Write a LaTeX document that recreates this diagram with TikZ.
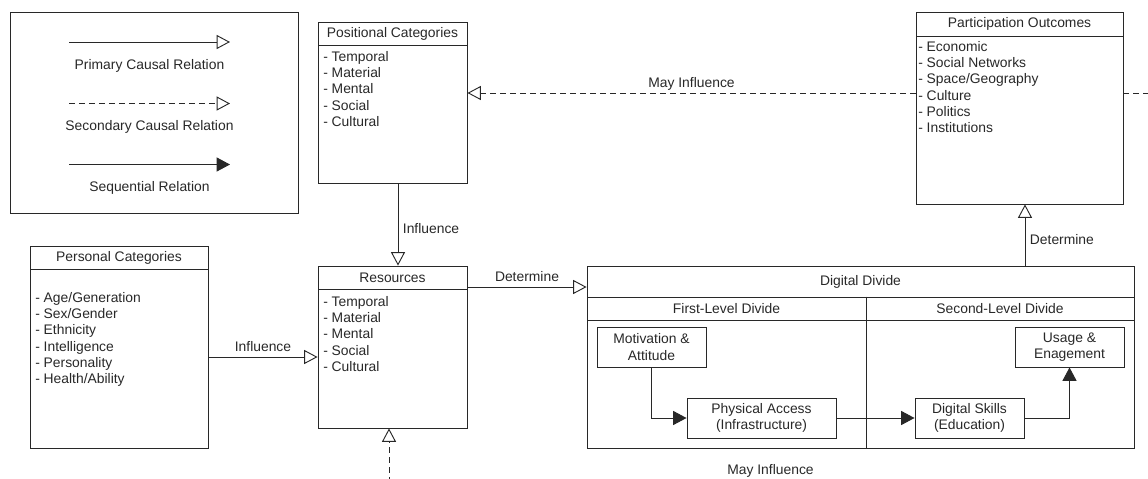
\documentclass[tikz,border=0pt]{standalone}
\usepackage{fontspec}
\setmainfont{Liberation Sans}
\usetikzlibrary{arrows.meta,positioning,fit,calc}
\definecolor{linegray}{RGB}{40,40,40}
\definecolor{textgray}{RGB}{40,40,40}

\begin{document}
\begin{tikzpicture}[x=0.75pt, y=-0.75pt,
    every node/.style={font=\fontsize{10.4}{12.2}\selectfont, text=textgray},
    frame/.style={draw=linegray, line width=0.7pt, inner sep=0pt, fit={#1}},
    items/.style={anchor=north west, align=left, inner sep=0pt},
    stage/.style={draw=linegray, line width=0.7pt, minimum width=81.75pt, minimum height=30pt, align=center, inner sep=1pt},
    primary/.style={draw=linegray, line width=0.7pt, -{Triangle[open, length=10pt, width=10.5pt]}},
    secondary/.style={primary, dash pattern=on 4.5pt off 3pt},
    sequential/.style={draw=linegray, line width=0.7pt, -{Triangle[length=10pt, width=10.5pt]}}]

\useasboundingbox (0,0) rectangle (1148,478);
\clip (0,0) rectangle (1148,478);

% legend
\node[frame={(10,12) (298,213)}] (legend) {};
\coordinate (prim-a) at (69,42);
\coordinate (prim-b) at (230,42);
\draw[primary] (prim-a) -- (prim-b);
\node (prim-lbl) at (149.5,65.5) {Primary Causal Relation};
\coordinate (sec-a) at (69,103.5);
\coordinate (sec-b) at (230,103.5);
\draw[secondary] (sec-a) -- (sec-b);
\node (sec-lbl) at (149.5,127) {Secondary Causal Relation};
\coordinate (seq-a) at (69,164.5);
\coordinate (seq-b) at (230,164.5);
\draw[sequential] (seq-a) -- (seq-b);
\node (seq-lbl) at (149.5,187.5) {Sequential Relation};

% category boxes
\node[frame={(318,22) (467,183)}] (positional) {};
\node[frame={(318,22) (467,45)}] (positional-head) {};
\node (positional-title) at (positional-head.center) {Positional Categories};
\node[items] (positional-list) at (323,51) {- Temporal\\- Material\\- Mental\\- Social\\- Cultural};

\node[frame={(30,246) (208,448)}] (personal) {};
\node[frame={(30,246) (208,269)}] (personal-head) {};
\node (personal-title) at (personal-head.center) {Personal Categories};
\node[items] (personal-list) at (35,292) {- Age/Generation\\- Sex/Gender\\- Ethnicity\\- Intelligence\\- Personality\\- Health/Ability};

\node[frame={(318,266) (467,428)}] (resources) {};
\node[frame={(318,266) (467,289)}] (resources-head) {};
\node (resources-title) at (resources-head.center) {Resources};
\node[items] (resources-list) at (323,296) {- Temporal\\- Material\\- Mental\\- Social\\- Cultural};

\node[frame={(916,12) (1123,204)}] (participation) {};
\node[frame={(916,12) (1123,36)}] (participation-head) {};
\node (participation-title) at (participation-head.center) {Participation Outcomes};
\node[items] (participation-list) at (918,41) {- Economic\\- Social Networks\\- Space/Geography\\- Culture\\- Politics\\- Institutions};

% digital divide
\node[frame={(587,266) (1134,448)}] (digital) {};
\node[frame={(587,266) (1134,297)}] (digital-head) {};
\node (digital-title) at (digital-head.center) {Digital Divide};
\node[frame={(587,297) (866,320)}] (first-head) {};
\node (first-title) at (first-head.center) {First-Level Divide};
\node[frame={(866,297) (1134,320)}] (second-head) {};
\node (second-title) at (second-head.center) {Second-Level Divide};
\draw[draw=linegray, line width=1.4pt] (first-head.north east) -- (first-head.east |- digital.south);

\node[stage] (motivation) at (651.5,347) {Motivation \&\\Attitude};
\node[stage, minimum width=111.75pt] (access) at (761.5,418) {Physical Access\\(Infrastructure)};
\node[stage] (skills) at (969.5,418) {Digital Skills\\(Education)};
\node[stage] (usage) at (1069.5,347) {Usage \&\\Enagement};

\draw[sequential] (motivation.south) |- (access.west);
\draw[sequential] (access.east) -- (skills.west);
\draw[sequential] (skills.east) -| (usage.south);

% relations
\draw[primary] (positional.south -| 398,0) -- node[right, pos=0.55] {Influence} (resources.north -| 398,0);
\draw[primary] (personal.east |- 0,357) -- node[above] {Influence} (resources.west |- 0,357);
\draw[primary] (resources.east |- 0,287) -- node[above] {Determine} (digital.west |- 0,287);
\draw[primary] (digital.north -| 1025,0) -- node[right, pos=0.42] {Determine} (participation.south -| 1025,0);
\draw[secondary] (participation.west |- 0,93) -- node[above=-2pt] {May Influence} (positional.east |- 0,93);

\coordinate (loop-ne) at (1152,93);
\coordinate (loop-se) at (1152,482);
\coordinate (loop-sw) at (389,482);
\draw[secondary] (participation.east |- loop-ne) -- (loop-ne) -- (loop-se) -- node[above] {May Influence} (loop-sw) -- (resources.south -| loop-sw);

\end{tikzpicture}
\end{document}
